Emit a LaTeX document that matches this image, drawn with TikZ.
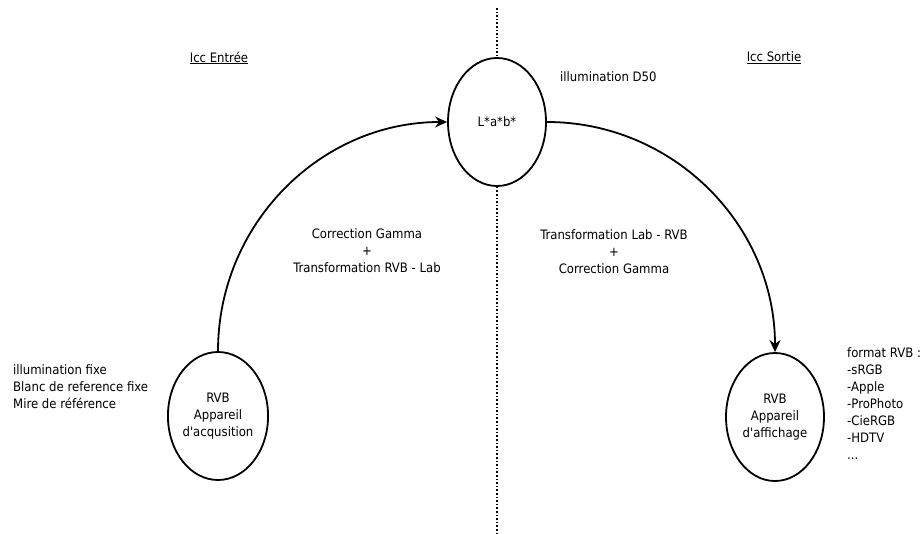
\documentclass[tikz,border=0pt]{standalone}
\usepackage{fontspec}
\setmainfont{DejaVu Sans Condensed}
\usetikzlibrary{shapes.geometric,arrows.meta}

\begin{document}
\begin{tikzpicture}[x=1pt, y=-1pt, font=\fontsize{13}{17}\selectfont,
  etat/.style={ellipse, draw, line width=1.8pt, minimum width=98pt, minimum height=128pt, inner sep=0pt, align=center},
  note/.style={inner sep=0pt, align=left, anchor=west},
  passe/.style={line width=1.8pt, -{Stealth[length=12pt, width=11pt]}}]
  \useasboundingbox (0,0) rectangle (923,534);
  % les trois espaces
  \node[etat] (lab) at (497,122) {L*a*b*};
  \node[etat] (acq) at (218,416) {RVB\\Appareil\\d\textquotesingle acqusition};
  \node[etat] (aff) at (775,417) {RVB\\Appareil\\d\textquotesingle affichage};
  % separation entree / sortie
  \coordinate (haut) at (497,8);
  \coordinate (bas) at (497,534);
  \draw[dotted, line width=1.6pt] (haut) -- (lab.north);
  \draw[dotted, line width=1.6pt] (lab.south) -- (bas);
  % transformations
  \draw[passe] (acq.north) to[out=90, in=180] (lab.west);
  \draw[passe] (lab.east) to[out=0, in=90] (aff.north);
  \node[align=center] (tin) at (367,251) {Correction Gamma\\+\\Transformation RVB - Lab};
  \node[align=center] (tout) at (614,252) {Transformation Lab - RVB\\+\\Correction Gamma};
  % titres et remarques
  \node (iccin) at (219,58) {\underline{Icc Entrée}};
  \node (iccout) at (774,58) {\underline{Icc Sortie}};
  \node[note] (d50) at (560,77) {illumination D50};
  \node[note] (cond) at (13,387) {illumination fixe\\Blanc de reference fixe\\Mire de référence};
  \node[note] (fmt) at (847,404) {format RVB :\\-sRGB\\-Apple\\-ProPhoto\\-CieRGB\\-HDTV\\...};
\end{tikzpicture}
\end{document}
